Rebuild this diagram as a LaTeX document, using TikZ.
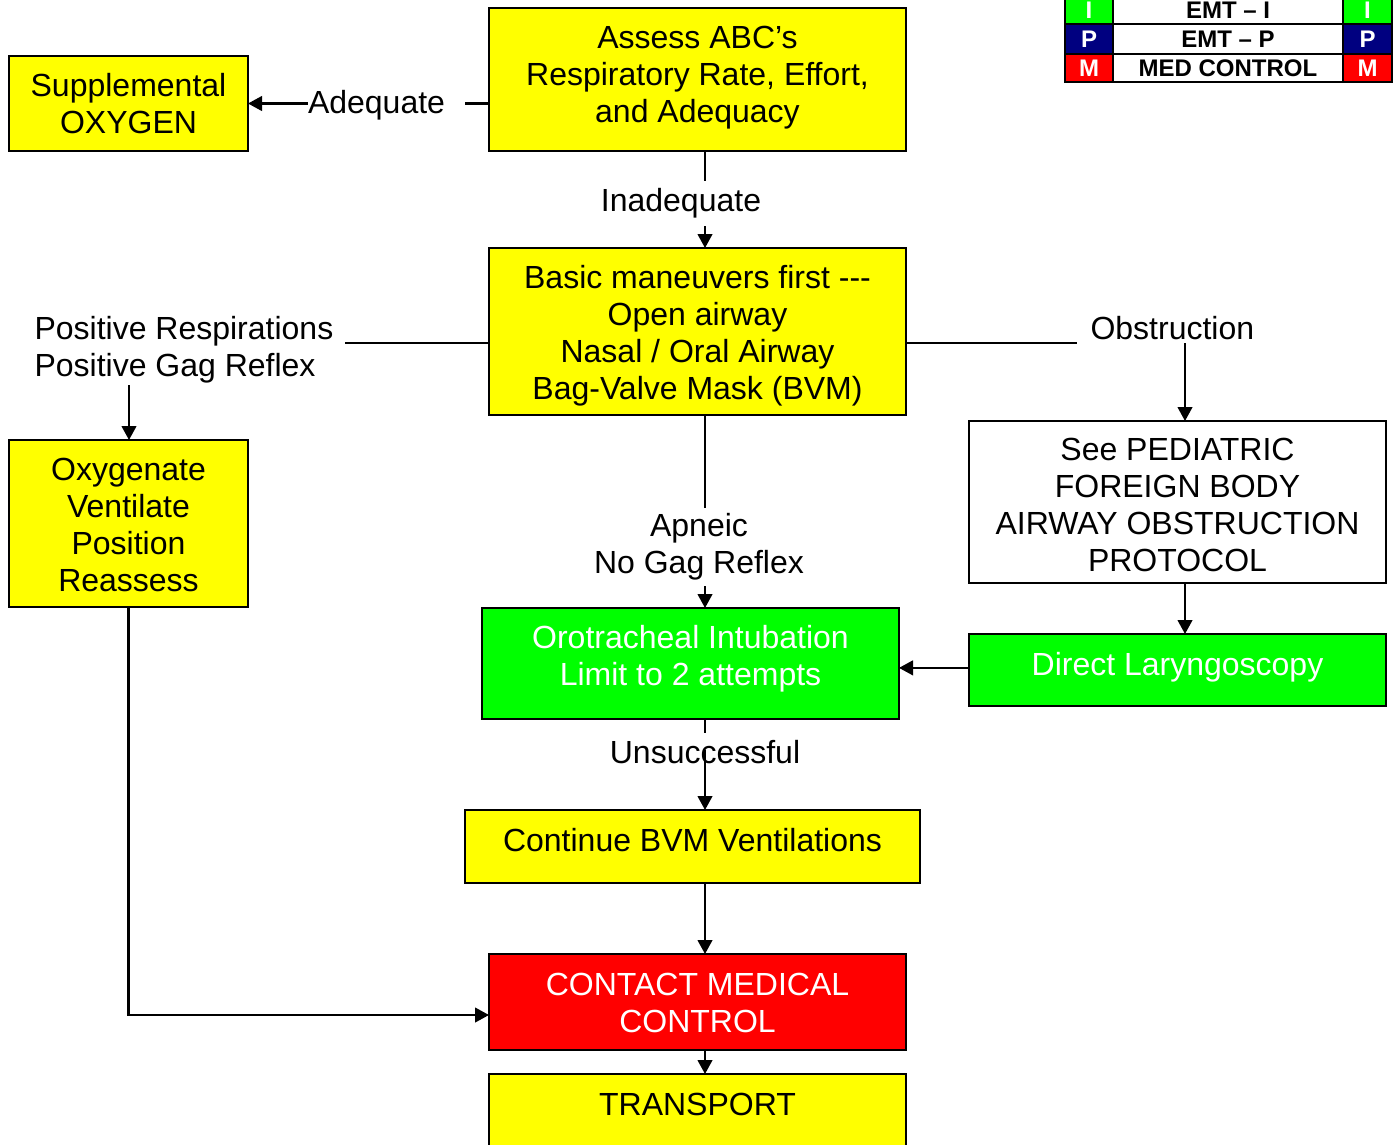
\documentclass[tikz,border=0pt]{standalone}
\usepackage{fontspec}
\setmainfont{Liberation Sans}
\usetikzlibrary{arrows.meta}
\definecolor{boxyellow}{RGB}{255,255,0}
\definecolor{boxgreen}{RGB}{0,255,0}
\definecolor{boxred}{RGB}{255,0,0}
\definecolor{navyblue}{RGB}{0,0,128}
\begin{document}
\begin{tikzpicture}[x=0.375pt,y=-0.375pt,
  bx/.style={draw=black, line width=0.75pt, inner sep=0pt, outer sep=0pt},
  txt/.style={align=center, font=\fontsize{12}{13.875}\selectfont, inner sep=0pt},
  lbl/.style={txt, fill=white, inner xsep=2pt, inner ysep=3pt},
  conn/.style={line width=0.8pt},
  arr/.style={conn, -{Triangle[length=5.25pt,width=5.5pt]}},
  cell/.style={draw=black, line width=1pt, inner sep=0pt, minimum height=#1,
    font=\fontsize{9}{10}\selectfont\bfseries},
]
\useasboundingbox (0,0) rectangle (1395,1144);
\clip (0,0) rectangle (1395,1144);

% flowchart boxes
\node[bx, fill=boxyellow, minimum width=156.375pt, minimum height=53.625pt] (assess) at (697.5,79.5) {};
\node[bx, fill=boxyellow, minimum width=89.625pt, minimum height=35.625pt] (supp) at (128.5,103.5) {};
\node[bx, fill=boxyellow, minimum width=156.375pt, minimum height=62.625pt] (basic) at (697.5,331.5) {};
\node[bx, fill=boxyellow, minimum width=89.625pt, minimum height=62.625pt] (oxy) at (128.5,523.5) {};
\node[bx, fill=white, minimum width=156.375pt, minimum height=60.75pt] (ped) at (1177.5,502) {};
\node[bx, fill=boxgreen, minimum width=156.375pt, minimum height=27pt] (direct) at (1177.5,670) {};
\node[bx, fill=boxgreen, minimum width=156.375pt, minimum height=41.625pt] (oro) at (690.5,663.5) {};
\node[bx, fill=boxyellow, minimum width=170.625pt, minimum height=27.375pt] (cont) at (692.5,846.5) {};
\node[bx, fill=boxred, minimum width=156.375pt, minimum height=36pt] (contact) at (697.5,1002) {};
\node[bx, fill=boxyellow, minimum width=156.375pt, minimum height=30pt] (transport) at (697.5,1114) {};

% box texts
\node[txt] (assessT) at (697.5,78) {Assess ABC’s\\Respiratory Rate, Effort,\\and Adequacy};
\node[txt] (suppT) at (128.5,103.5) {Supplemental\\OXYGEN};
\node[txt] (basicT) at (697.5,336) {Basic maneuvers first -{}-{}-\\Open airway\\Nasal / Oral Airway\\Bag-Valve Mask (BVM)};
\node[txt] (oxyT) at (128.5,525) {Oxygenate\\Ventilate\\Position\\Reassess};
\node[txt] (pedT) at (1177.5,505) {See PEDIATRIC\\FOREIGN BODY\\AIRWAY OBSTRUCTION\\PROTOCOL};
\node[txt, text=white] (directT) at (1177.5,667.5) {Direct Laryngoscopy};
\node[txt, text=white] (oroT) at (690.5,659) {Orotracheal Intubation\\Limit to 2 attempts};
\node[txt] (contT) at (692.5,840.5) {Continue BVM Ventilations};
\node[txt, text=white] (contactT) at (697.5,1002.5) {CONTACT MEDICAL\\CONTROL};
\node[txt] (transportT) at (697.5,1104.5) {TRANSPORT};

% guide coordinates for connectors
\coordinate (spine) at (705,0);
\coordinate (obs) at (1185,343);
\coordinate (posEnd) at (345,343);
\coordinate (obsEnd) at (1077,343);
\coordinate (posArr) at (129,385);
\coordinate (unsStub) at (705,733);
\coordinate (unsArr) at (705,750);

% Adequate
\draw[arr] (assess.west |- supp.east) -- (supp.east);
\node[txt, fill=white, text width=58.875pt, align=left, minimum height=20pt] (adequate) at (386.5,105.5) {Adequate};

% Inadequate
\draw[arr] (assess.south -| spine) -- (basic.north -| spine);
\node[lbl] (inadequate) at (681,203.5) {Inadequate};

% Positive respirations branch
\draw[conn] (basic.west |- posEnd) -- (posEnd);
\node[txt, align=left, anchor=west] (posresp) at (34,350) {Positive Respirations\\Positive Gag Reflex};
\draw[arr] (posArr) -- (oxy.north -| posArr);

% Obstruction branch
\draw[conn] (basic.east |- obsEnd) -- (obsEnd);
\node[txt, anchor=west] (obstruction) at (1090,328) {Obstruction};
\draw[arr] (obs) -- (ped.north -| obs);
\draw[arr] (ped.south -| obs) -- (direct.north -| obs);
\draw[arr] ([yshift=0.8pt]direct.west) -- ([yshift=0.8pt]oro.east |- direct.west);

% Apneic
\draw[arr] (basic.south -| spine) -- (oro.north -| spine);
\node[lbl, inner ysep=2pt] (apneic) at (699,547) {Apneic\\No Gag Reflex};

% Unsuccessful
\draw[conn] (oro.south -| spine) -- (unsStub);
\node[txt] (unsuccessful) at (705,752.5) {Unsuccessful};
\draw[arr] (unsArr) -- (cont.north -| spine);

% lower spine
\draw[arr] (cont.south -| spine) -- (contact.north -| spine);
\draw[arr] (contact.south -| spine) -- (transport.north -| spine);
\draw[arr] (oxy.south) |- ([yshift=-4.875pt]contact.west);

% provider level legend
\node[cell=10.5pt, fill=boxgreen, text=white, minimum width=18pt] (lgIa) at (1089,10) {I};
\node[cell=10.5pt, fill=white, minimum width=86.25pt] (lgIb) at (1228,10) {EMT – I};
\node[cell=10.5pt, fill=boxgreen, text=white, minimum width=18.375pt] (lgIc) at (1367.5,10) {I};
\node[cell=11.25pt, fill=navyblue, text=white, minimum width=18pt] (lgPa) at (1089,39) {P};
\node[cell=11.25pt, fill=white, minimum width=86.25pt] (lgPb) at (1228,39) {EMT – P};
\node[cell=11.25pt, fill=navyblue, text=white, minimum width=18.375pt] (lgPc) at (1367.5,39) {P};
\node[cell=10.5pt, fill=boxred, text=white, minimum width=18pt] (lgMa) at (1089,68) {M};
\node[cell=10.5pt, fill=white, minimum width=86.25pt] (lgMb) at (1228,68) {MED CONTROL};
\node[cell=10.5pt, fill=boxred, text=white, minimum width=18.375pt] (lgMc) at (1367.5,68) {M};
\end{tikzpicture}
\end{document}
